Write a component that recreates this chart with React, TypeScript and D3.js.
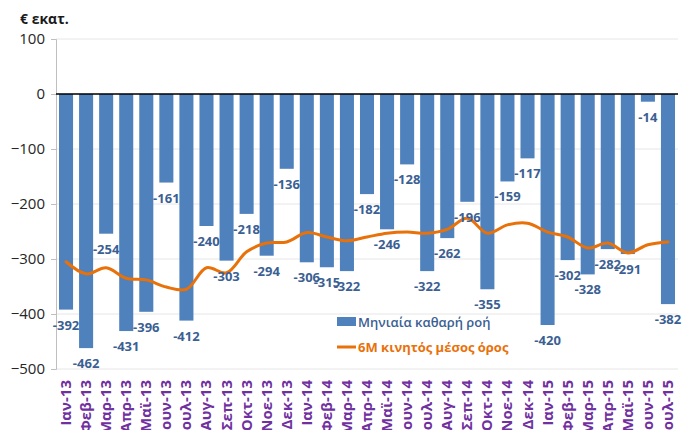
import { useRef, useEffect } from 'react';
import * as d3 from 'd3';

const months = [
  'Ιαν-13', 'Φεβ-13', 'Μαρ-13', 'Απρ-13', 'Μαϊ-13', 'Ιουν-13', 'Ιουλ-13', 'Αυγ-13',
  'Σεπ-13', 'Οκτ-13', 'Νοε-13', 'Δεκ-13', 'Ιαν-14', 'Φεβ-14', 'Μαρ-14', 'Απρ-14',
  'Μαϊ-14', 'Ιουν-14', 'Ιουλ-14', 'Αυγ-14', 'Σεπ-14', 'Οκτ-14', 'Νοε-14', 'Δεκ-14',
  'Ιαν-15', 'Φεβ-15', 'Μαρ-15', 'Απρ-15', 'Μαϊ-15', 'Ιουν-15', 'Ιουλ-15',
];

const monthlyFlow = [
  -392, -462, -254, -431, -396, -161, -412, -240, -303, -218, -294, -136,
  -306, -315, -322, -182, -246, -128, -322, -262, -196, -355, -159, -117,
  -420, -302, -328, -282, -291, -14, -382,
];

const movingAvg = [
  -305, -327, -316, -335, -338, -351, -355, -316, -325, -287, -271, -269,
  -252, -260, -267, -260, -253, -251, -253, -246, -226, -253, -238, -235,
  -251, -260, -280, -271, -289, -274, -269,
];

const yTicks = [100, 0, -100, -200, -300, -400, -500];

export default function App() {
  const ref = useRef<SVGSVGElement>(null);

  useEffect(() => {
    if (!ref.current) return;
    const width = 687;
    const height = 430;
    const margin = { top: 39, right: 9, bottom: 61, left: 56 };

    d3.select(ref.current).selectAll('*').remove();
    const svg = d3.select(ref.current).attr('width', width).attr('height', height);
    const font = "'Open Sans', 'Liberation Sans', sans-serif";

    const x = d3
      .scaleBand()
      .domain(months)
      .range([margin.left, width - margin.right])
      .paddingInner(0.3)
      .paddingOuter(0.15);

    const y = d3
      .scaleLinear()
      .domain([-500, 100])
      .range([height - margin.bottom, margin.top]);

    // gridlines
    svg
      .append('g')
      .selectAll('line')
      .data(yTicks)
      .join('line')
      .attr('x1', margin.left)
      .attr('x2', width - margin.right)
      .attr('y1', (d) => y(d))
      .attr('y2', (d) => y(d))
      .attr('stroke', '#e6e6e6')
      .attr('stroke-width', 1);

    // y axis
    const yAxis = svg
      .append('g')
      .attr('transform', `translate(${margin.left},0)`)
      .call(d3.axisLeft(y).tickValues(yTicks).tickSize(5).tickPadding(6));
    yAxis.select('.domain').attr('stroke', '#bfbfbf');
    yAxis.selectAll('.tick line').attr('stroke', '#bfbfbf');
    yAxis
      .selectAll('.tick text')
      .attr('font-family', font)
      .attr('font-size', 15)
      .attr('fill', '#262626');

    svg
      .append('text')
      .attr('x', 20)
      .attr('y', 24)
      .attr('font-family', font)
      .attr('font-size', 14)
      .attr('font-weight', 'bold')
      .attr('fill', '#1a1a1a')
      .text('€ εκατ.');

    // bars
    svg
      .append('g')
      .selectAll('rect')
      .data(monthlyFlow)
      .join('rect')
      .attr('x', (d, i) => x(months[i]) || 0)
      .attr('y', y(0))
      .attr('width', x.bandwidth())
      .attr('height', (d) => y(d) - y(0))
      .attr('fill', '#4f81bd');

    // zero line
    svg
      .append('line')
      .attr('x1', margin.left)
      .attr('x2', width - margin.right)
      .attr('y1', y(0))
      .attr('y2', y(0))
      .attr('stroke', '#000')
      .attr('stroke-width', 1.5);

    // moving average
    const line = d3
      .line<number>()
      .x((d, i) => (x(months[i]) || 0) + x.bandwidth() / 2)
      .y((d) => y(d))
      .curve(d3.curveCatmullRom.alpha(0.5));
    svg
      .append('path')
      .datum(movingAvg)
      .attr('d', line)
      .attr('fill', 'none')
      .attr('stroke', '#e8710a')
      .attr('stroke-width', 3)
      .attr('stroke-linecap', 'round');

    // data labels
    svg
      .append('g')
      .selectAll('text')
      .data(monthlyFlow)
      .join('text')
      .attr('x', (d, i) => (x(months[i]) || 0) + x.bandwidth() / 2)
      .attr('y', (d) => y(d) + 20)
      .attr('text-anchor', 'middle')
      .attr('font-family', font)
      .attr('font-size', 13)
      .attr('font-weight', 'bold')
      .attr('fill', '#3b5f93')
      .text((d) => d);

    // x labels
    svg
      .append('g')
      .selectAll('text')
      .data(months)
      .join('text')
      .attr('transform', (d) => `translate(${(x(d) || 0) + x.bandwidth() / 2 + 5},${height - margin.bottom + 11}) rotate(-90)`)
      .attr('text-anchor', 'end')
      .attr('font-family', font)
      .attr('font-size', 15)
      .attr('font-weight', 'bold')
      .attr('fill', '#7030a0')
      .text((d) => d);

    // legend
    const lg = svg.append('g').attr('transform', 'translate(337,322)');
    lg.append('rect').attr('x', 0).attr('y', -5).attr('width', 19).attr('height', 9).attr('fill', '#4f81bd');
    lg.append('text')
      .attr('x', 21)
      .attr('y', 5)
      .attr('font-family', font)
      .attr('font-size', 13)
      .attr('font-weight', 600)
      .attr('fill', '#3b5f93')
      .text('Μηνιαία καθαρή ροή');
    lg.append('line')
      .attr('x1', 0)
      .attr('x2', 19)
      .attr('y1', 25)
      .attr('y2', 25)
      .attr('stroke', '#e8710a')
      .attr('stroke-width', 3);
    lg.append('text')
      .attr('x', 21)
      .attr('y', 30)
      .attr('font-family', font)
      .attr('font-size', 13)
      .attr('font-weight', 'bold')
      .attr('fill', '#e8710a')
      .text('6Μ κινητός μέσος όρος');
  }, []);

  return (
    <div style={{ position: 'absolute', left: 0, top: 0, width: 687, height: 430, overflow: 'hidden', background: '#fff' }}>
      <svg ref={ref}></svg>
    </div>
  );
}
